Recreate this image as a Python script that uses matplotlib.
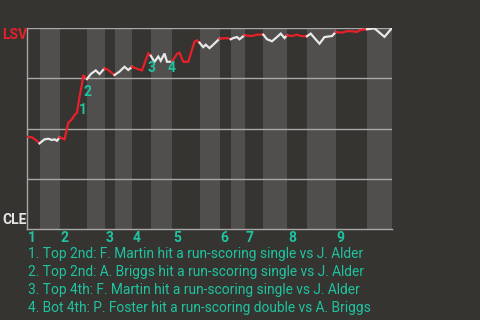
import matplotlib
matplotlib.use("Agg")
import matplotlib.pyplot as plt

# pitch count at each play and LSV win probability after it
pitch = [0, 4, 7, 10,
         14, 17, 20, 22, 24, 26,
         30, 33, 36, 38, 40, 42, 44, 45, 48,
         51, 55, 58, 62,
         65, 67, 70,
         74, 78, 81, 84,
         88, 92, 97, 99,
         102, 105, 107, 110, 112, 116,
         120, 122, 125, 129, 134, 136, 138,
         141, 143, 146, 149, 154,
         160, 163,
         165, 168, 170, 174,
         180, 184, 189,
         192, 196, 200, 203, 206, 208,
         212, 216, 219, 224,
         227, 230, 234, 238, 244, 247,
         252, 256, 260, 264, 266, 272,
         278, 286, 292]
win_prob = [0.459, 0.456, 0.443, 0.426,
            0.446, 0.449, 0.443, 0.446, 0.439, 0.456,
            0.446, 0.529, 0.546, 0.567, 0.579, 0.658, 0.721, 0.766, 0.746,
            0.771, 0.789, 0.771, 0.799,
            0.791, 0.781, 0.766,
            0.783, 0.807, 0.791, 0.807,
            0.797, 0.789, 0.874, 0.862,
            0.832, 0.858, 0.837, 0.873, 0.832, 0.832,
            0.871, 0.877, 0.832, 0.832, 0.932, 0.939, 0.927,
            0.905, 0.917, 0.900, 0.917, 0.947,
            0.950, 0.944,
            0.950, 0.955, 0.944, 0.964,
            0.960, 0.967, 0.967,
            0.944, 0.934, 0.955, 0.972, 0.950, 0.964,
            0.960, 0.967, 0.960, 0.959,
            0.972, 0.950, 0.922, 0.955, 0.960, 0.980,
            0.977, 0.984, 0.984, 0.980, 0.989, 0.994,
            0.998, 0.956, 1.0]

# pitch where each half inning starts (top 1st, bot 1st, ...)
half_starts = [0, 10, 26, 48, 62, 70, 84, 99, 116, 138, 154, 163, 174, 189, 208, 224, 247, 272]
game_end = 292
innings = ["1", "2", "3", "4", "5", "6", "7", "8", "9"]

event_pitch = [42, 45, 97, 112]
event_notes = [
    "1. Top 2nd: F. Martin hit a run-scoring single vs J. Alder",
    "2. Top 2nd: A. Briggs hit a run-scoring single vs J. Alder",
    "3. Top 4th: F. Martin hit a run-scoring single vs J. Alder",
    "4. Bot 4th: P. Foster hit a run-scoring double vs A. Briggs",
]
event_offsets = [(3, -13), (4, -17), (3, -15), (5, -6)]

BG = "#353430"
BAND = "#504f4d"
GRID = "#a8a8a8"
RED = "#e8202a"
WHITE = "#e8e8e8"
TEAL = "#1fc3a0"
FONT = "Roboto"

fig = plt.figure(figsize=(4.8, 3.2), dpi=100, facecolor=BG)
ax = fig.add_axes([27 / 480, 1 - 229 / 320, 365 / 480, 201 / 320])
ax.set_facecolor(BG)
ax.set_xlim(0, game_end)
ax.set_ylim(0, 1)

bounds = half_starts + [game_end]
for i in range(len(half_starts)):
    lo, hi = bounds[i], bounds[i + 1]
    if i % 2 == 1:
        ax.axvspan(lo, hi, color=BAND, lw=0, zorder=0)
    xs = [p for p in pitch if lo <= p <= hi]
    ys = [w for p, w in zip(pitch, win_prob) if lo <= p <= hi]
    ax.plot(xs, ys, color=RED if i % 2 == 0 else WHITE, lw=1.6,
            solid_joinstyle="miter", zorder=3)

for y in [0.25, 0.5, 0.75, 1.0]:
    ax.axhline(y, color=GRID, lw=1, zorder=1)

for s in ["top", "right"]:
    ax.spines[s].set_visible(False)
for s in ["left", "bottom"]:
    ax.spines[s].set_color(GRID)
    ax.spines[s].set_linewidth(1)
ax.set_xticks([])
ax.set_yticks([])

for k, p in enumerate(event_pitch):
    ax.annotate(str(k + 1), xy=(p, win_prob[pitch.index(p)]),
                xytext=event_offsets[k], textcoords="offset pixels",
                ha="center", va="center", color=TEAL, fontsize=10,
                fontweight="bold", family=FONT, zorder=4)

for k, lab in enumerate(innings):
    ax.text(half_starts[2 * k] + 0.8, -0.045, lab, transform=ax.transData,
            ha="left", va="center", color=TEAL, fontsize=10,
            fontweight="bold", family=FONT, clip_on=False)

fig.text(2 / 480, 1 - 35 / 320, "LSV", color=RED, fontsize=10,
         fontweight="bold", family=FONT, ha="left", va="center")
fig.text(2 / 480, 1 - 220 / 320, "CLE", color="#e6e6e6", fontsize=10,
         fontweight="bold", family=FONT, ha="left", va="center")

for k, note in enumerate(event_notes):
    fig.text(28 / 480, 1 - (254 + 18 * k) / 320, note, color=TEAL,
             fontsize=9.9, family=FONT, ha="left", va="center")

fig.savefig("out.png", dpi=100, facecolor=BG)
